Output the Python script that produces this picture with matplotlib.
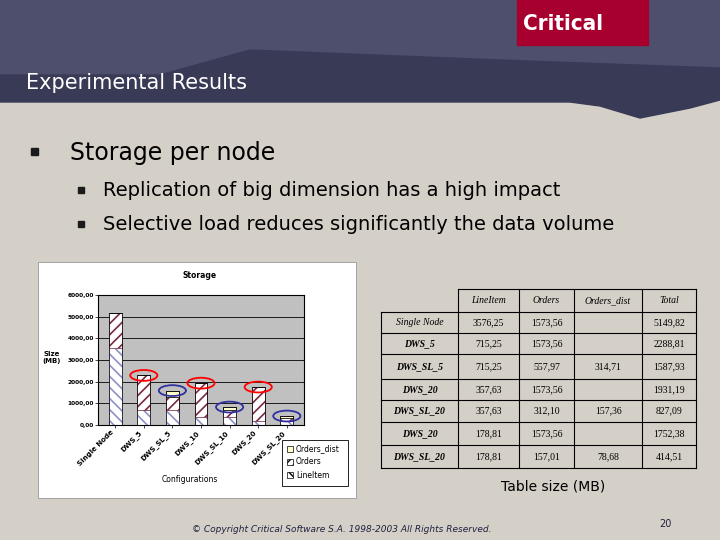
import matplotlib.pyplot as plt
import matplotlib.patches as mpatches
import numpy as np

# data
configs = ['Single Node', 'DWS_5', 'DWS_SL_5', 'DWS_10', 'DWS_SL_10', 'DWS_20', 'DWS_SL_20']
row_labels = ['Single Node', 'DWS_5', 'DWS_SL_5', 'DWS_20', 'DWS_SL_20', 'DWS_20', 'DWS_SL_20']
lineitem = np.array([3576.25, 715.25, 715.25, 357.63, 357.63, 178.81, 178.81])
orders = np.array([1573.56, 1573.56, 557.97, 1573.56, 312.10, 1573.56, 157.01])
orders_dist = np.array([0, 0, 314.71, 0, 157.36, 0, 78.68])
totals = [5149.82, 2288.81, 1587.93, 1931.19, 827.09, 1752.38, 414.51]
circle_col = ['none', 'red', '#3030a0', 'red', '#3030a0', 'red', '#3030a0']

bg = '#d4d0c8'
fig = plt.figure(figsize=(7.2, 5.4), dpi=100)
fig.patch.set_facecolor(bg)

# slide canvas in pixel coords
ax = fig.add_axes([0, 0, 1, 1])
ax.set_xlim(0, 720)
ax.set_ylim(540, 0)
ax.axis('off')

ax.add_patch(mpatches.Polygon([(0, 0), (720, 0), (720, 68), (500, 60), (250, 50), (160, 75), (0, 75)],
                              color='#4d4f6c', zorder=1))
ax.add_patch(mpatches.Polygon([(0, 75), (160, 75), (250, 50), (500, 60), (720, 68), (720, 100), (690, 108),
                               (640, 118), (600, 106), (570, 102), (0, 102)],
                              color='#393a56', zorder=1))
ax.add_patch(mpatches.Rectangle((517, 0), 131, 45, color='#a8002e', zorder=2))
ax.text(563, 24, 'Critical', color='white', fontsize=16, ha='center', va='center',
        family='DejaVu Sans', fontweight='bold', fontstretch='condensed', zorder=3)
ax.text(26, 83, 'Experimental Results', color='white', fontsize=15, va='center', zorder=3)

ax.add_patch(mpatches.Rectangle((31, 148), 7, 7, color='#1a1a1a'))
ax.text(70, 153, 'Storage per node', fontsize=17, va='center')
for y, t in [(190, 'Replication of big dimension has a high impact'),
             (224, 'Selective load reduces significantly the data volume')]:
    ax.add_patch(mpatches.Rectangle((78, y - 3), 6, 6, color='#1a1a1a'))
    ax.text(103, y, t, fontsize=14, va='center')

# chart box
ax.add_patch(mpatches.Rectangle((38, 262), 318, 236, facecolor='white', edgecolor='#999999', lw=0.6))
ax.text(200, 276, 'Storage', fontsize=5.5, fontweight='bold', ha='center', va='center')
ax.text(52, 358, 'Size\n(MB)', fontsize=5, fontweight='bold', ha='center', va='center')
ax.text(190, 479, 'Configurations', fontsize=5.5, ha='center', va='center')

# legend
ax.add_patch(mpatches.Rectangle((282, 440), 66, 46, facecolor='white', edgecolor='black', lw=0.6))
leg = [('Orders_dist', '#ffffcc', ''), ('Orders', 'white', '////'), ('LineItem', 'white', '\\\\\\\\')]
for i, (name, fc, h) in enumerate(leg):
    yy = 449 + i * 13
    ax.add_patch(mpatches.Rectangle((287, yy - 3), 6, 6, facecolor=fc, edgecolor='black', lw=0.5, hatch=h))
    ax.text(296, yy, name, fontsize=5.5, va='center')

# bar chart
cx = fig.add_axes([98 / 720, 1 - 425 / 540, 206 / 720, 130 / 540])
cx.set_facecolor('#c0c0c0')
x = np.arange(len(configs))
w = 0.45
plt.rcParams['hatch.linewidth'] = 1.2
cx.bar(x, lineitem, w, color='white', edgecolor='#9090c8', hatch='\\\\\\', lw=0.5)
cx.bar(x, orders, w, bottom=lineitem, color='white', edgecolor='#7a2a40', hatch='///', lw=0.5)
cx.bar(x, orders_dist, w, bottom=lineitem + orders, color='#ffffcc', edgecolor='black', lw=0.5)
cx.bar(x, lineitem + orders + orders_dist, w, fill=False, edgecolor='black', lw=0.5)
for xi, t, c in zip(x, totals, circle_col):
    if c != 'none':
        cx.add_patch(mpatches.Ellipse((xi, t), 0.95, 500, fill=False, edgecolor=c, lw=1.3, clip_on=False))
cx.set_ylim(0, 6000)
cx.set_xlim(-0.6, 6.6)
cx.set_yticks(np.arange(0, 6001, 1000))
cx.set_yticklabels(['%d,00' % v for v in range(0, 6001, 1000)], fontsize=4.2, fontweight='bold')
cx.set_xticks(x)
cx.set_xticklabels(configs, rotation=45, ha='right', fontsize=5, fontweight='bold')
cx.yaxis.grid(True, color='black', lw=0.6)
cx.set_axisbelow(True)
cx.tick_params(length=2, width=0.5, pad=1)

# table
cols_x = [381, 458, 519, 574, 642, 696]
rows_y = [289, 312, 333, 354, 379, 400, 422, 445, 468]
headers = ['LineItem', 'Orders', 'Orders_dist', 'Total']
ax.plot([458, 696], [289, 289], color='black', lw=0.8)
for xc in cols_x[1:]:
    ax.plot([xc, xc], [289, 468], color='black', lw=0.8)
ax.plot([381, 381], [312, 468], color='black', lw=0.8)
for yr in rows_y[1:]:
    ax.plot([381, 696], [yr, yr], color='black', lw=0.8)
for j, h in enumerate(headers):
    ax.text((cols_x[j + 1] + cols_x[j + 2]) / 2, 300.5, h, fontsize=7, style='italic',
            family='Liberation Serif', ha='center', va='center')
for i, lab in enumerate(row_labels):
    yc = (rows_y[i + 1] + rows_y[i + 2]) / 2
    ax.text(419.5, yc, lab, fontsize=7, style='italic', family='Liberation Serif',
            fontweight='normal' if i == 0 else 'bold', ha='center', va='center')
    vals = [lineitem[i], orders[i], orders_dist[i], totals[i]]
    for j, v in enumerate(vals):
        if v == 0:
            continue
        s = ('%.2f' % v).replace('.', ',')
        ax.text((cols_x[j + 1] + cols_x[j + 2]) / 2, yc, s, fontsize=7, family='Liberation Serif',
                ha='center', va='center')
ax.text(553, 487, 'Table size (MB)', fontsize=10, ha='center', va='center')

ax.text(342, 530, '© Copyright Critical Software S.A. 1998-2003 All Rights Reserved.', fontsize=6.5,
        style='italic', ha='center', va='center', color='#202040')
ax.text(665, 524, '20', fontsize=7, ha='center', va='center', color='#202040')

fig.savefig('out.png', dpi=100, facecolor=bg)
